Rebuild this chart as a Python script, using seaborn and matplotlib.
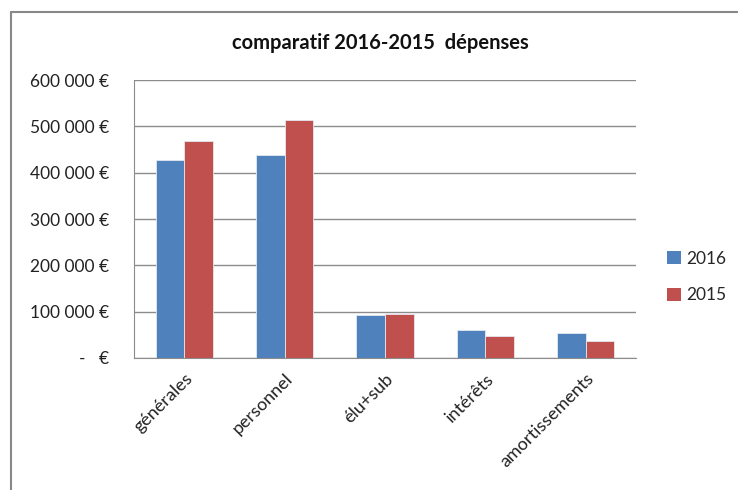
import numpy as np
import pandas as pd
import matplotlib
matplotlib.use("Agg")
import matplotlib.pyplot as plt
import seaborn as sns
from matplotlib.lines import Line2D
from matplotlib.patches import Patch

categories = ["générales", "personnel", "élu+sub", "intérêts", "amortissements"]
years = ["2016", "2015"]
values_2016 = [428000, 438000, 93000, 60000, 54000]
values_2015 = [468000, 514000, 96000, 47000, 36000]
yticks = [0, 100000, 200000, 300000, 400000, 500000, 600000]

colors = {"2016": "#4F81BD", "2015": "#C0504D"}

df = pd.DataFrame({
	"cat": categories * 2,
	"year": ["2016"] * 5 + ["2015"] * 5,
	"val": values_2016 + values_2015,
})

sns.set_style("white")
plt.rcParams['font.family'] = ['Lato', 'DejaVu Sans']

fig = plt.figure(figsize=(7.38, 4.9), dpi=100)
ax = fig.add_axes([134 / 738, 1 - 358 / 490, 502 / 738, 278 / 490])

sns.barplot(data=df, x="cat", y="val", hue="year", hue_order=years,
	palette=colors, width=0.57, ax=ax, legend=False, saturation=1,
	edgecolor="#E4E8F0", linewidth=0.6)

ax.set_ylim(0, 600000)
ax.set_xlim(-0.5, 4.5)
ax.set_yticks(yticks)

def fmt(v):
	if v == 0:
		return "-   €"
	return f"{int(v):,} €".replace(",", " ")

ax.set_yticklabels([fmt(v) for v in yticks], fontsize=12.5, color="#222222")
ax.set_xticks(range(len(categories)))
ax.set_xticklabels(categories, rotation=45, ha="right", rotation_mode="anchor",
	fontsize=13, color="#222222")
ax.tick_params(axis="y", length=0, pad=18)
ax.tick_params(axis="x", length=0, pad=9)

ax.grid(axis="y", color="#8C8C8C", linewidth=1)
ax.set_axisbelow(True)
for s in ["top", "right"]:
	ax.spines[s].set_visible(False)
ax.spines["left"].set_color("#8C8C8C")
ax.spines["bottom"].set_color("#8C8C8C")
ax.set_xlabel("")
ax.set_ylabel("")

fig.text(380 / 738, 1 - 43 / 490, "comparatif 2016-2015  dépenses", ha="center",
	va="center", fontsize=14.5, fontweight="bold", color="#111111")

handles = [Patch(facecolor=colors[y], edgecolor="none") for y in years]
fig.legend(handles, years, loc="center left", bbox_to_anchor=(651 / 738, 1 - 277 / 490),
	frameon=False, fontsize=12.5, handlelength=0.8, handleheight=0.8,
	labelspacing=1.2, handletextpad=0.35)

# chart border
fig.add_artist(Line2D([11 / 738, 11 / 738], [0, 1 - 12 / 490], transform=fig.transFigure,
	color="#888888", linewidth=1.5))
fig.add_artist(Line2D([11 / 738, 1], [1 - 12 / 490, 1 - 12 / 490], transform=fig.transFigure,
	color="#888888", linewidth=1.5))

fig.savefig("out.png", dpi=100)
